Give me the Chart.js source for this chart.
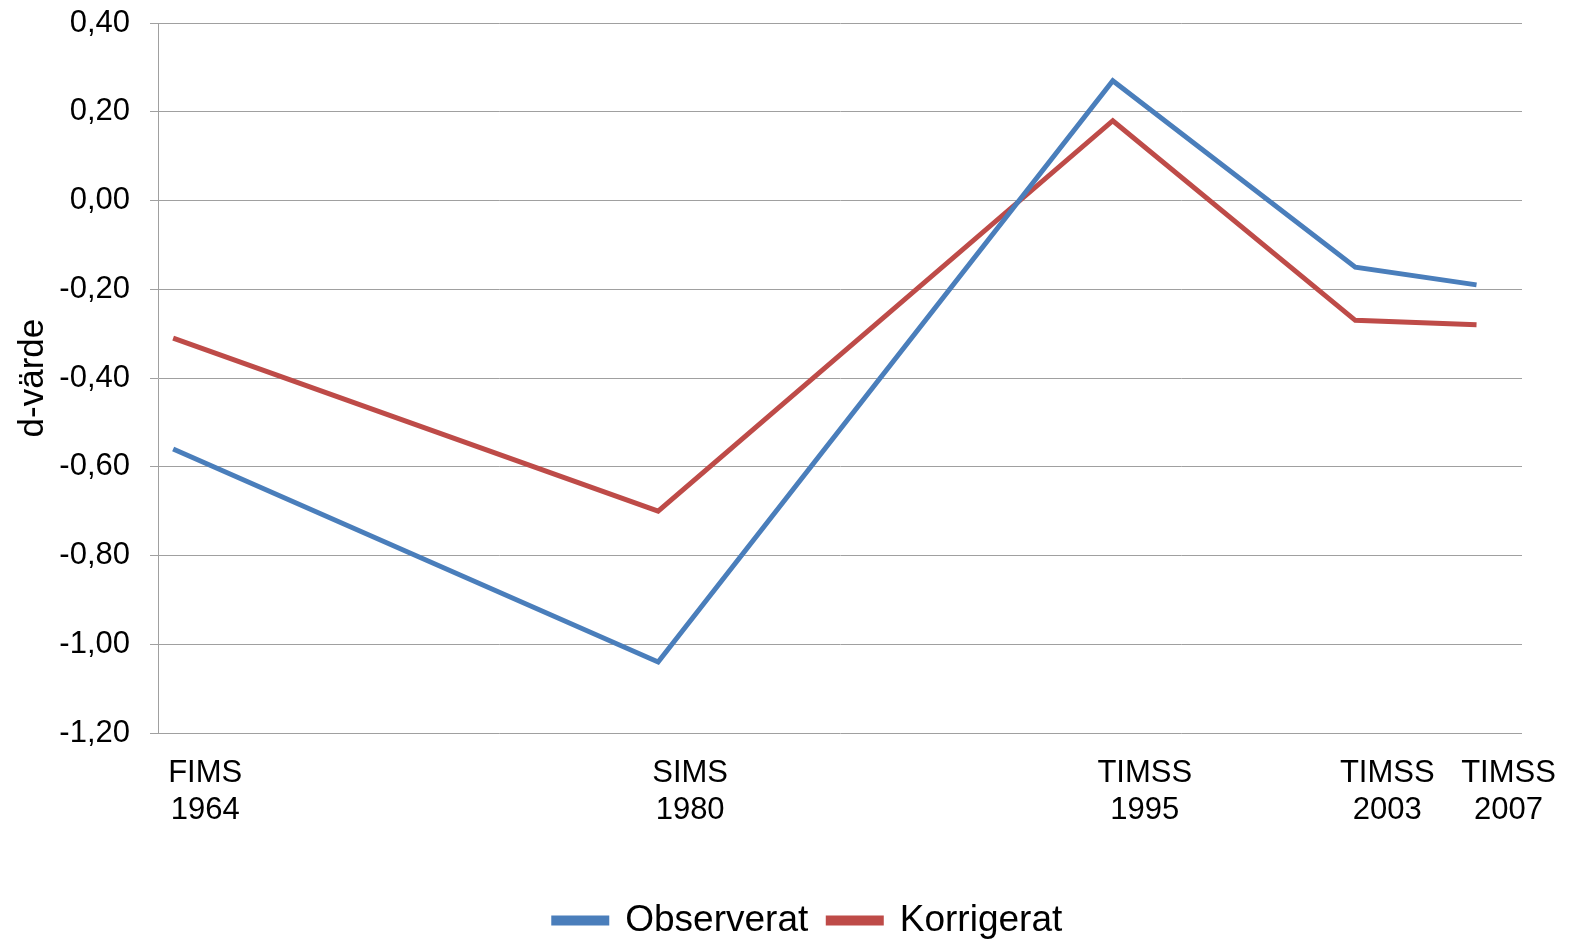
<!DOCTYPE html>
<html>
<head>
<meta charset="utf-8">
<script src="https://cdn.jsdelivr.net/npm/chart.js@4"></script>
<style>
  html, body { margin: 0; padding: 0; background: #fff; }
  #wrap { width: 1570px; height: 941px; }
</style>
</head>
<body>
<div id="wrap"><canvas id="lineChart" width="1570" height="941"></canvas></div>
<script>
// years on the x axis and their study names
const years = [1964, 1980, 1995, 2003, 2007];
const studies = ["FIMS", "SIMS", "TIMSS", "TIMSS", "TIMSS"];

// d-values
const observerat = [-0.56, -1.04, 0.27, -0.15, -0.19];
const korrigerat = [-0.31, -0.70, 0.18, -0.27, -0.28];

const font = "'Liberation Sans', Arial, sans-serif";

const toPoints = vals => years.map((y, i) => ({ x: y, y: vals[i] }));

// nudge the legend row to the right, where the original has it
const legendShift = {
  id: "legendShift",
  afterLayout(chart) {
    if (chart.legend) {
      chart.legend.left += 47;
      chart.legend.right += 47;
    }
  }
};

new Chart(document.getElementById("lineChart"), {
  type: "line",
  data: {
    datasets: [
      {
        label: "Observerat",
        data: toPoints(observerat),
        borderColor: "#4a7ebb",
        backgroundColor: "#4a7ebb",
        borderWidth: 5,
        pointRadius: 0,
        tension: 0
      },
      {
        label: "Korrigerat",
        data: toPoints(korrigerat),
        borderColor: "#be4b48",
        backgroundColor: "#be4b48",
        borderWidth: 5,
        pointRadius: 0,
        tension: 0
      }
    ]
  },
  plugins: [legendShift],
  options: {
    responsive: false,
    animation: false,
    // negative bottom padding pushes the legend row a bit lower
    layout: { padding: { top: 0, right: 48, bottom: -8, left: 0 } },
    plugins: {
      tooltip: { enabled: false },
      legend: {
        position: "bottom",
        labels: {
          font: { family: font, size: 37 },
          color: "#000",
          boxWidth: 53,
          boxHeight: 5,
          padding: 20
        }
      }
    },
    scales: {
      x: {
        type: "linear",
        min: 1963.5,
        max: 2008.5,
        afterBuildTicks: axis => {
          axis.ticks = years.map(v => ({ value: v }));
        },
        afterFit: axis => { axis.height = 149; },
        grid: { display: false },
        border: { display: false },
        ticks: {
          autoSkip: false,
          maxRotation: 0,
          labelOffset: 32,
          padding: 14,
          color: "#000",
          font: { family: font, size: 31 },
          callback: v => {
            const i = years.indexOf(v);
            return i < 0 ? "" : [studies[i], String(v)];
          }
        }
      },
      y: {
        min: -1.2,
        max: 0.4,
        afterFit: axis => { axis.width = 158; },
        grid: { color: "#a0a0a0", lineWidth: 1, tickLength: 8 },
        border: { display: true, color: "#a0a0a0", width: 1 },
        ticks: {
          stepSize: 0.2,
          padding: 20,
          color: "#000",
          font: { family: font, size: 31, lineHeight: 0.2 },
          callback: v => v.toFixed(2).replace(".", ",")
        },
        title: {
          display: true,
          text: "d-värde",
          color: "#000",
          padding: { top: 12, bottom: 0 },
          font: { family: font, size: 35 }
        }
      }
    }
  }
});
</script>
</body>
</html>
